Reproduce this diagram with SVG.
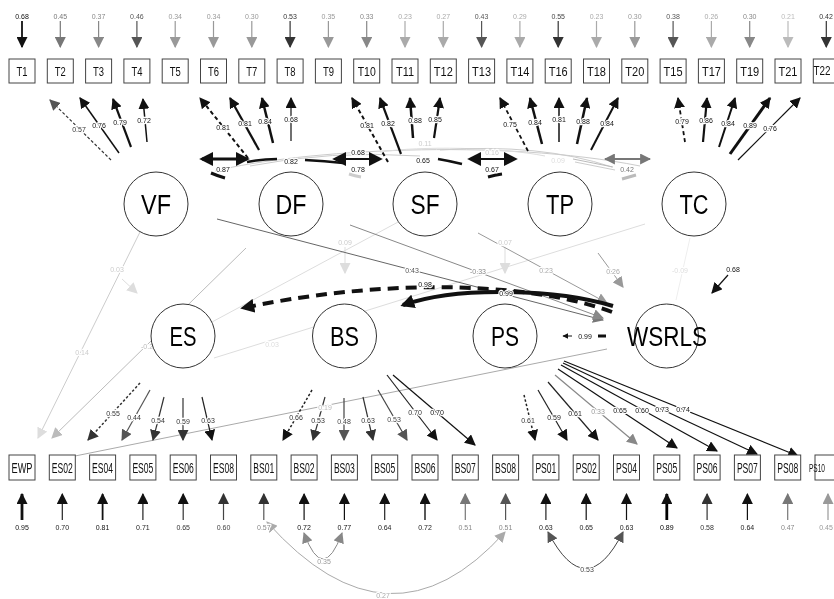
<svg xmlns="http://www.w3.org/2000/svg" width="834" height="599" viewBox="0 0 834 599">
<style>
.n{font-family:"Liberation Sans",Arial,sans-serif;font-size:7px;text-anchor:middle;dominant-baseline:central;paint-order:stroke;stroke:#fff;stroke-width:2.4px;stroke-linejoin:round}
.bx{fill:#fff;stroke:#444;stroke-width:1}
.bt{font-family:"Liberation Sans",Arial,sans-serif;font-size:13px;text-anchor:middle;dominant-baseline:central;fill:#111}
.bb{font-family:"Liberation Sans",Arial,sans-serif;font-size:14px;text-anchor:middle;dominant-baseline:central;fill:#111}
.fc{fill:#fff;stroke:#333;stroke-width:1}
.ft{font-family:"Liberation Sans",Arial,sans-serif;font-size:27px;text-anchor:middle;dominant-baseline:central;fill:#000}
.c{fill:none}
.d{stroke-dasharray:3,2}
.gl{will-change:transform;opacity:0.999}
</style>
<defs>
<marker id="k1" viewBox="0 0 10 10" refX="9" refY="5" markerWidth="11" markerHeight="11" markerUnits="userSpaceOnUse" orient="auto-start-reverse"><path d="M0,0L10,5L0,10z" fill="#111"/></marker>
<marker id="k3" viewBox="0 0 10 10" refX="9" refY="5" markerWidth="11" markerHeight="11" markerUnits="userSpaceOnUse" orient="auto-start-reverse"><path d="M0,0L10,5L0,10z" fill="#333"/></marker>
<marker id="k5" viewBox="0 0 10 10" refX="9" refY="5" markerWidth="11" markerHeight="11" markerUnits="userSpaceOnUse" orient="auto-start-reverse"><path d="M0,0L10,5L0,10z" fill="#555"/></marker>
<marker id="k7" viewBox="0 0 10 10" refX="9" refY="5" markerWidth="11" markerHeight="11" markerUnits="userSpaceOnUse" orient="auto-start-reverse"><path d="M0,0L10,5L0,10z" fill="#777"/></marker>
<marker id="k8" viewBox="0 0 10 10" refX="9" refY="5" markerWidth="11" markerHeight="11" markerUnits="userSpaceOnUse" orient="auto-start-reverse"><path d="M0,0L10,5L0,10z" fill="#888"/></marker>
<marker id="k9" viewBox="0 0 10 10" refX="9" refY="5" markerWidth="11" markerHeight="11" markerUnits="userSpaceOnUse" orient="auto-start-reverse"><path d="M0,0L10,5L0,10z" fill="#999"/></marker>
<marker id="ka" viewBox="0 0 10 10" refX="9" refY="5" markerWidth="11" markerHeight="11" markerUnits="userSpaceOnUse" orient="auto-start-reverse"><path d="M0,0L10,5L0,10z" fill="#aaa"/></marker>
<marker id="kb" viewBox="0 0 10 10" refX="9" refY="5" markerWidth="11" markerHeight="11" markerUnits="userSpaceOnUse" orient="auto-start-reverse"><path d="M0,0L10,5L0,10z" fill="#bbb"/></marker>
<marker id="kd" viewBox="0 0 10 10" refX="9" refY="5" markerWidth="11" markerHeight="11" markerUnits="userSpaceOnUse" orient="auto-start-reverse"><path d="M0,0L10,5L0,10z" fill="#ddd"/></marker>
<marker id="kB" viewBox="0 0 10 10" refX="8" refY="5" markerWidth="14" markerHeight="14" markerUnits="userSpaceOnUse" orient="auto-start-reverse"><path d="M0,0L10,5L0,10z" fill="#111"/></marker>
<marker id="kS" viewBox="0 0 10 10" refX="9" refY="5" markerWidth="6" markerHeight="6" markerUnits="userSpaceOnUse" orient="auto-start-reverse"><path d="M0,0L10,5L0,10z" fill="#111"/></marker>
</defs>
<rect width="834" height="599" fill="#fff"/>

<g id="connectors">
<path class="c" d="M215,171 C300,150 500,138 640,166" stroke="#ccc" stroke-width="1"/>
<path class="c" d="M380,152 C420,146 500,147 545,156" stroke="#ddd" stroke-width="1"/>
<path class="c" d="M440,150 Q540,143 612,167" stroke="#ccc" stroke-width="1"/>
<path class="c" d="M250,166 Q330,150 420,156" stroke="#ccc" stroke-width="1"/>
<line x1="573" y1="159" x2="613" y2="167" stroke="#bbb" stroke-width="1"/>
<line x1="575" y1="162" x2="615" y2="170" stroke="#ccc" stroke-width="1"/>

<line x1="140" y1="232" x2="38" y2="438" stroke="#ccc" stroke-width="1" marker-end="url(#kd)"/>
<line x1="122" y1="279" x2="137" y2="293" stroke="#ddd" stroke-width="1" marker-end="url(#kd)"/>
<line x1="246" y1="248" x2="52" y2="438" stroke="#bbb" stroke-width="1" marker-end="url(#kb)"/>
<line x1="607" y1="349" x2="75" y2="456" stroke="#aaa" stroke-width="1"/>
<line x1="400" y1="221" x2="212" y2="322" stroke="#ddd" stroke-width="1"/>
<line x1="645" y1="224" x2="214" y2="358" stroke="#ddd" stroke-width="1"/>
<line x1="345" y1="247" x2="345" y2="273" stroke="#ddd" stroke-width="1" marker-end="url(#kd)"/>
<line x1="505" y1="247" x2="505" y2="273" stroke="#ddd" stroke-width="1" marker-end="url(#kd)"/>
<line x1="690" y1="238" x2="676" y2="300" stroke="#eee" stroke-width="1"/>

<line x1="22" y1="21" x2="22" y2="47" stroke="#111" stroke-width="1.8" marker-end="url(#k1)"/>
<line x1="60.3" y1="21" x2="60.3" y2="47" stroke="#777" stroke-width="1.2" marker-end="url(#k7)"/>
<line x1="98.6" y1="21" x2="98.6" y2="47" stroke="#888" stroke-width="1.2" marker-end="url(#k8)"/>
<line x1="136.9" y1="21" x2="136.9" y2="47" stroke="#555" stroke-width="1.2" marker-end="url(#k5)"/>
<line x1="175.2" y1="21" x2="175.2" y2="47" stroke="#999" stroke-width="1.2" marker-end="url(#k9)"/>
<line x1="213.5" y1="21" x2="213.5" y2="47" stroke="#999" stroke-width="1.2" marker-end="url(#k9)"/>
<line x1="251.8" y1="21" x2="251.8" y2="47" stroke="#999" stroke-width="1.2" marker-end="url(#k9)"/>
<line x1="290.1" y1="21" x2="290.1" y2="47" stroke="#333" stroke-width="1.2" marker-end="url(#k3)"/>
<line x1="328.4" y1="21" x2="328.4" y2="47" stroke="#999" stroke-width="1.2" marker-end="url(#k9)"/>
<line x1="366.7" y1="21" x2="366.7" y2="47" stroke="#888" stroke-width="1.2" marker-end="url(#k8)"/>
<line x1="405" y1="21" x2="405" y2="47" stroke="#aaa" stroke-width="1.2" marker-end="url(#ka)"/>
<line x1="443.3" y1="21" x2="443.3" y2="47" stroke="#aaa" stroke-width="1.2" marker-end="url(#ka)"/>
<line x1="481.6" y1="21" x2="481.6" y2="47" stroke="#555" stroke-width="1.2" marker-end="url(#k5)"/>
<line x1="519.9" y1="21" x2="519.9" y2="47" stroke="#aaa" stroke-width="1.2" marker-end="url(#ka)"/>
<line x1="558.2" y1="21" x2="558.2" y2="47" stroke="#333" stroke-width="1.2" marker-end="url(#k3)"/>
<line x1="596.5" y1="21" x2="596.5" y2="47" stroke="#aaa" stroke-width="1.2" marker-end="url(#ka)"/>
<line x1="634.8" y1="21" x2="634.8" y2="47" stroke="#999" stroke-width="1.2" marker-end="url(#k9)"/>
<line x1="673.1" y1="21" x2="673.1" y2="47" stroke="#555" stroke-width="1.2" marker-end="url(#k5)"/>
<line x1="711.4" y1="21" x2="711.4" y2="47" stroke="#aaa" stroke-width="1.2" marker-end="url(#ka)"/>
<line x1="749.7" y1="21" x2="749.7" y2="47" stroke="#888" stroke-width="1.2" marker-end="url(#k8)"/>
<line x1="788" y1="21" x2="788" y2="47" stroke="#bbb" stroke-width="1.2" marker-end="url(#kb)"/>
<line x1="826.3" y1="21" x2="826.3" y2="47" stroke="#333" stroke-width="1.2" marker-end="url(#k3)"/>

<line class="d" x1="111" y1="160" x2="50" y2="100" stroke="#333" stroke-width="1.2" marker-end="url(#k5)"/>
<line x1="119" y1="153" x2="80" y2="98" stroke="#111" stroke-width="1.5" marker-end="url(#k1)"/>
<line x1="131" y1="147" x2="113" y2="99" stroke="#111" stroke-width="2.2" marker-end="url(#k1)"/>
<line x1="147" y1="142" x2="143" y2="99" stroke="#111" stroke-width="1.5" marker-end="url(#k1)"/>

<line x1="248" y1="158" x2="200" y2="98" stroke="#111" stroke-width="2" stroke-dasharray="4,3" marker-end="url(#k1)"/>
<line x1="259" y1="150" x2="230" y2="98" stroke="#111" stroke-width="2.2" marker-end="url(#k1)"/>
<line x1="273" y1="143" x2="262" y2="98" stroke="#111" stroke-width="2.5" marker-end="url(#k1)"/>
<line x1="291" y1="141" x2="291" y2="98" stroke="#111" stroke-width="1.2" marker-end="url(#k1)"/>

<line x1="388" y1="162" x2="352" y2="98" stroke="#111" stroke-width="2" stroke-dasharray="4,3" marker-end="url(#k1)"/>
<line x1="401" y1="154" x2="380" y2="98" stroke="#111" stroke-width="2.2" marker-end="url(#k1)"/>
<line x1="413" y1="138" x2="410" y2="98" stroke="#111" stroke-width="2.5" marker-end="url(#k1)"/>
<line x1="434" y1="138" x2="440" y2="98" stroke="#111" stroke-width="2.2" marker-end="url(#k1)"/>

<line x1="528" y1="151" x2="500" y2="98" stroke="#111" stroke-width="1.8" stroke-dasharray="4,3" marker-end="url(#k1)"/>
<line x1="542" y1="144" x2="530" y2="98" stroke="#111" stroke-width="2.5" marker-end="url(#k1)"/>
<line x1="559" y1="142" x2="559" y2="98" stroke="#111" stroke-width="1.5" marker-end="url(#k1)"/>
<line x1="577" y1="144" x2="587" y2="98" stroke="#111" stroke-width="2.5" marker-end="url(#k1)"/>
<line x1="591" y1="150" x2="618" y2="98" stroke="#111" stroke-width="2" marker-end="url(#k1)"/>

<line x1="685" y1="142" x2="678" y2="98" stroke="#111" stroke-width="1.8" stroke-dasharray="4,3" marker-end="url(#k1)"/>
<line x1="703" y1="142" x2="707" y2="98" stroke="#111" stroke-width="2.2" marker-end="url(#k1)"/>
<line x1="719" y1="147" x2="735" y2="98" stroke="#111" stroke-width="2" marker-end="url(#k1)"/>
<line x1="730" y1="154" x2="770" y2="98" stroke="#111" stroke-width="3" marker-end="url(#k1)"/>
<line x1="738" y1="160" x2="800" y2="98" stroke="#111" stroke-width="1.2" marker-end="url(#k1)"/>

<line x1="202" y1="159" x2="247" y2="159" stroke="#111" stroke-width="3" marker-start="url(#kB)" marker-end="url(#kB)"/>
<path class="c" d="M211,173 Q218,176 225,178" stroke="#111" stroke-width="3"/>
<path class="c" d="M247,162 Q262,159 277,159" stroke="#111" stroke-width="2.5"/>
<path class="c" d="M305,160 Q325,161 343,163" stroke="#111" stroke-width="2.5"/>
<line x1="335" y1="159" x2="380" y2="159" stroke="#111" stroke-width="2" marker-start="url(#kB)" marker-end="url(#kB)"/>
<path class="c" d="M349,174 Q355,176 361,177" stroke="#ccc" stroke-width="3"/>
<path class="c" d="M438,159 Q450,161 462,164" stroke="#111" stroke-width="2.5"/>
<line x1="470" y1="159" x2="515" y2="159" stroke="#111" stroke-width="2" marker-start="url(#kB)" marker-end="url(#kB)"/>
<path class="c" d="M488,177 Q495,175 502,174" stroke="#111" stroke-width="3"/>
<line x1="605" y1="159" x2="650" y2="159" stroke="#777" stroke-width="2" marker-start="url(#k7)" marker-end="url(#k7)"/>
<path class="c" d="M622,179 Q629,177 636,175" stroke="#bbb" stroke-width="3"/>

<line x1="217" y1="219" x2="603" y2="320" stroke="#666" stroke-width="1" marker-end="url(#k7)"/>
<line x1="350" y1="225" x2="603" y2="318" stroke="#888" stroke-width="1" marker-end="url(#k8)"/>
<line x1="478" y1="233" x2="607" y2="303" stroke="#999" stroke-width="1" marker-end="url(#k9)"/>
<line x1="598" y1="253" x2="623" y2="287" stroke="#999" stroke-width="1" marker-end="url(#k9)"/>
<line x1="728" y1="275" x2="712" y2="293" stroke="#111" stroke-width="1.2" marker-end="url(#k1)"/>

<path class="c" d="M612,312 C540,285 400,275 243,308" stroke="#111" stroke-width="4" stroke-dasharray="11,7" marker-end="url(#kB)"/>
<path class="c" d="M613,306 C560,290 460,285 403,305" stroke="#111" stroke-width="4" marker-end="url(#kB)"/>
<line x1="598" y1="336" x2="606" y2="336" stroke="#111" stroke-width="3"/>
<line x1="572" y1="336" x2="563" y2="336" stroke="#111" stroke-width="1" marker-end="url(#kS)"/>

<line x1="140" y1="383" x2="88" y2="440" stroke="#333" stroke-width="1.5" stroke-dasharray="2.5,2" marker-end="url(#k3)"/>
<line x1="150" y1="390" x2="122" y2="440" stroke="#555" stroke-width="1.2" marker-end="url(#k5)"/>
<line x1="164" y1="397" x2="153" y2="440" stroke="#333" stroke-width="1.2" marker-end="url(#k3)"/>
<line x1="183" y1="398" x2="183" y2="440" stroke="#333" stroke-width="1.2" marker-end="url(#k3)"/>
<line x1="202" y1="397" x2="212" y2="440" stroke="#222" stroke-width="1.2" marker-end="url(#k1)"/>
<line x1="312" y1="390" x2="283" y2="440" stroke="#222" stroke-width="1.5" stroke-dasharray="2.5,2" marker-end="url(#k1)"/>
<line x1="325" y1="397" x2="313" y2="440" stroke="#333" stroke-width="1.2" marker-end="url(#k3)"/>
<line x1="344" y1="398" x2="344" y2="440" stroke="#444" stroke-width="1.2" marker-end="url(#k5)"/>
<line x1="363" y1="397" x2="373" y2="440" stroke="#333" stroke-width="1.2" marker-end="url(#k3)"/>
<line x1="378" y1="390" x2="407" y2="440" stroke="#444" stroke-width="1.2" marker-end="url(#k5)"/>
<line x1="387" y1="375" x2="437" y2="440" stroke="#222" stroke-width="1.2" marker-end="url(#k1)"/>
<line x1="393" y1="375" x2="475" y2="445" stroke="#111" stroke-width="1.2" marker-end="url(#k1)"/>
<line x1="524" y1="395" x2="535" y2="440" stroke="#222" stroke-width="1.5" stroke-dasharray="2.5,2" marker-end="url(#k1)"/>
<line x1="538" y1="390" x2="567" y2="440" stroke="#222" stroke-width="1.2" marker-end="url(#k1)"/>
<line x1="548" y1="382" x2="598" y2="440" stroke="#222" stroke-width="1.2" marker-end="url(#k1)"/>
<line x1="555" y1="375" x2="637" y2="444" stroke="#888" stroke-width="1.2" marker-end="url(#k8)"/>
<line x1="558" y1="369" x2="677" y2="448" stroke="#111" stroke-width="1.2" marker-end="url(#k1)"/>
<line x1="561" y1="365" x2="717" y2="451" stroke="#111" stroke-width="1.2" marker-end="url(#k1)"/>
<line x1="563" y1="363" x2="757" y2="454" stroke="#111" stroke-width="1.2" marker-end="url(#k1)"/>
<line x1="564" y1="361" x2="798" y2="456" stroke="#111" stroke-width="1.2" marker-end="url(#k1)"/>

<line x1="22" y1="520" x2="22" y2="494" stroke="#111" stroke-width="2.8" marker-end="url(#k1)"/>
<line x1="62.3" y1="520" x2="62.3" y2="494" stroke="#222" stroke-width="1.2" marker-end="url(#k1)"/>
<line x1="102.6" y1="520" x2="102.6" y2="494" stroke="#111" stroke-width="1.8" marker-end="url(#k1)"/>
<line x1="142.9" y1="520" x2="142.9" y2="494" stroke="#222" stroke-width="1.2" marker-end="url(#k1)"/>
<line x1="183.2" y1="520" x2="183.2" y2="494" stroke="#333" stroke-width="1.2" marker-end="url(#k1)"/>
<line x1="223.5" y1="520" x2="223.5" y2="494" stroke="#444" stroke-width="1.2" marker-end="url(#k3)"/>
<line x1="263.8" y1="520" x2="263.8" y2="494" stroke="#555" stroke-width="1.2" marker-end="url(#k3)"/>
<line x1="304.1" y1="520" x2="304.1" y2="494" stroke="#111" stroke-width="1.2" marker-end="url(#k1)"/>
<line x1="344.4" y1="520" x2="344.4" y2="494" stroke="#111" stroke-width="1.2" marker-end="url(#k1)"/>
<line x1="384.7" y1="520" x2="384.7" y2="494" stroke="#222" stroke-width="1.2" marker-end="url(#k1)"/>
<line x1="425" y1="520" x2="425" y2="494" stroke="#222" stroke-width="1.5" marker-end="url(#k1)"/>
<line x1="465.3" y1="520" x2="465.3" y2="494" stroke="#777" stroke-width="1.2" marker-end="url(#k7)"/>
<line x1="505.6" y1="520" x2="505.6" y2="494" stroke="#555" stroke-width="1.2" marker-end="url(#k5)"/>
<line x1="545.9" y1="520" x2="545.9" y2="494" stroke="#222" stroke-width="1.2" marker-end="url(#k1)"/>
<line x1="586.2" y1="520" x2="586.2" y2="494" stroke="#111" stroke-width="1.2" marker-end="url(#k1)"/>
<line x1="626.5" y1="520" x2="626.5" y2="494" stroke="#111" stroke-width="1.2" marker-end="url(#k1)"/>
<line x1="666.8" y1="520" x2="666.8" y2="494" stroke="#000" stroke-width="2.8" marker-end="url(#k1)"/>
<line x1="707.1" y1="520" x2="707.1" y2="494" stroke="#333" stroke-width="1.2" marker-end="url(#k3)"/>
<line x1="747.4" y1="520" x2="747.4" y2="494" stroke="#111" stroke-width="1.2" marker-end="url(#k1)"/>
<line x1="787.7" y1="520" x2="787.7" y2="494" stroke="#777" stroke-width="1.2" marker-end="url(#k7)"/>
<line x1="828" y1="520" x2="828" y2="494" stroke="#999" stroke-width="1.2" marker-end="url(#k9)"/>

<path class="c" d="M304,533 Q323,585 342,533" stroke="#888" stroke-width="1" marker-start="url(#k8)" marker-end="url(#k8)"/>
<path class="c" d="M267,522 Q390,660 505,532" stroke="#aaa" stroke-width="1" marker-start="url(#ka)" marker-end="url(#ka)"/>
<path class="c" d="M548,532 Q586,605 623,532" stroke="#444" stroke-width="1" marker-start="url(#k5)" marker-end="url(#k5)"/>

<g id="labels" class="gl">
<text class="n" x="22" y="16" fill="#111">0.68</text>
<text class="n" x="60.3" y="16" fill="#777">0.45</text>
<text class="n" x="98.6" y="16" fill="#888">0.37</text>
<text class="n" x="136.9" y="16" fill="#555">0.46</text>
<text class="n" x="175.2" y="16" fill="#999">0.34</text>
<text class="n" x="213.5" y="16" fill="#999">0.34</text>
<text class="n" x="251.8" y="16" fill="#999">0.30</text>
<text class="n" x="290.1" y="16" fill="#333">0.53</text>
<text class="n" x="328.4" y="16" fill="#999">0.35</text>
<text class="n" x="366.7" y="16" fill="#888">0.33</text>
<text class="n" x="405" y="16" fill="#aaa">0.23</text>
<text class="n" x="443.3" y="16" fill="#aaa">0.27</text>
<text class="n" x="481.6" y="16" fill="#555">0.43</text>
<text class="n" x="519.9" y="16" fill="#aaa">0.29</text>
<text class="n" x="558.2" y="16" fill="#444">0.55</text>
<text class="n" x="596.5" y="16" fill="#aaa">0.23</text>
<text class="n" x="634.8" y="16" fill="#999">0.30</text>
<text class="n" x="673.1" y="16" fill="#555">0.38</text>
<text class="n" x="711.4" y="16" fill="#aaa">0.26</text>
<text class="n" x="749.7" y="16" fill="#888">0.30</text>
<text class="n" x="788" y="16" fill="#bbb">0.21</text>
<text class="n" x="826" y="16" fill="#333">0.42</text>

<text class="n" x="79" y="129" fill="#333">0.57</text>
<text class="n" x="99" y="125" fill="#111">0.76</text>
<text class="n" x="120" y="122" fill="#111">0.79</text>
<text class="n" x="144" y="120" fill="#111">0.72</text>
<text class="n" x="223" y="127" fill="#111">0.81</text>
<text class="n" x="245" y="123" fill="#111">0.81</text>
<text class="n" x="265" y="121" fill="#111">0.84</text>
<text class="n" x="291" y="119" fill="#111">0.68</text>
<text class="n" x="367" y="125" fill="#111">0.81</text>
<text class="n" x="388" y="123" fill="#111">0.82</text>
<text class="n" x="415" y="120" fill="#111">0.88</text>
<text class="n" x="435" y="119" fill="#111">0.85</text>
<text class="n" x="510" y="124" fill="#111">0.75</text>
<text class="n" x="535" y="122" fill="#111">0.84</text>
<text class="n" x="559" y="119" fill="#111">0.81</text>
<text class="n" x="583" y="121" fill="#111">0.88</text>
<text class="n" x="607" y="123" fill="#111">0.84</text>
<text class="n" x="682" y="121" fill="#111">0.79</text>
<text class="n" x="706" y="120" fill="#111">0.86</text>
<text class="n" x="728" y="123" fill="#111">0.84</text>
<text class="n" x="750" y="125" fill="#111">0.89</text>
<text class="n" x="770" y="128" fill="#111">0.76</text>

<text class="n" x="223" y="169" fill="#111">0.87</text>
<text class="n" x="291" y="161" fill="#111">0.82</text>
<text class="n" x="358" y="152" fill="#111">0.68</text>
<text class="n" x="358" y="169" fill="#111">0.78</text>
<text class="n" x="423" y="160" fill="#111">0.65</text>
<text class="n" x="425" y="143" fill="#ccc">0.11</text>
<text class="n" x="492" y="152" fill="#ccc">0.16</text>
<text class="n" x="492" y="169" fill="#111">0.67</text>
<text class="n" x="558" y="160" fill="#ddd">0.09</text>
<text class="n" x="627" y="169" fill="#777">0.42</text>

<text class="n" x="117" y="269" fill="#ccc">0.03</text>
<text class="n" x="345" y="242" fill="#ccc">0.09</text>
<text class="n" x="505" y="242" fill="#ccc">0.07</text>
<text class="n" x="82" y="352" fill="#ccc">0.14</text>
<text class="n" x="147" y="346" fill="#bbb">-0.2</text>
<text class="n" x="272" y="344" fill="#ddd">0.03</text>
<text class="n" x="325" y="407" fill="#bbb">0.19</text>
<text class="n" x="412" y="270" fill="#555">0.43</text>
<text class="n" x="478" y="271" fill="#888">-0.33</text>
<text class="n" x="546" y="270" fill="#aaa">0.23</text>
<text class="n" x="613" y="271" fill="#aaa">0.26</text>
<text class="n" x="680" y="270" fill="#ddd">-0.09</text>
<text class="n" x="733" y="269" fill="#111">0.68</text>
<text class="n" x="425" y="284" fill="#111">0.98</text>
<text class="n" x="506" y="293" fill="#111">0.99</text>
<text class="n" x="585" y="336" fill="#111">0.99</text>

<text class="n" x="113" y="413" fill="#333">0.55</text>
<text class="n" x="134" y="417" fill="#333">0.44</text>
<text class="n" x="158" y="420" fill="#333">0.54</text>
<text class="n" x="183" y="421" fill="#333">0.59</text>
<text class="n" x="208" y="420" fill="#333">0.63</text>
<text class="n" x="296" y="417" fill="#333">0.66</text>
<text class="n" x="318" y="420" fill="#333">0.53</text>
<text class="n" x="344" y="421" fill="#444">0.48</text>
<text class="n" x="368" y="420" fill="#333">0.63</text>
<text class="n" x="394" y="419" fill="#444">0.53</text>
<text class="n" x="415" y="412" fill="#333">0.70</text>
<text class="n" x="437" y="412" fill="#111">0.70</text>
<text class="n" x="528" y="420" fill="#333">0.61</text>
<text class="n" x="554" y="417" fill="#222">0.59</text>
<text class="n" x="575" y="413" fill="#222">0.61</text>
<text class="n" x="598" y="411" fill="#999">0.33</text>
<text class="n" x="620" y="410" fill="#111">0.65</text>
<text class="n" x="642" y="410" fill="#111">0.60</text>
<text class="n" x="662" y="409" fill="#111">0.73</text>
<text class="n" x="683" y="409" fill="#111">0.74</text>

<text class="n" x="22" y="527" fill="#111">0.95</text>
<text class="n" x="62.3" y="527" fill="#222">0.70</text>
<text class="n" x="102.6" y="527" fill="#111">0.81</text>
<text class="n" x="142.9" y="527" fill="#222">0.71</text>
<text class="n" x="183.2" y="527" fill="#333">0.65</text>
<text class="n" x="223.5" y="527" fill="#444">0.60</text>
<text class="n" x="263.8" y="527" fill="#888">0.57</text>
<text class="n" x="304.1" y="527" fill="#111">0.72</text>
<text class="n" x="344.4" y="527" fill="#111">0.77</text>
<text class="n" x="384.7" y="527" fill="#222">0.64</text>
<text class="n" x="425" y="527" fill="#222">0.72</text>
<text class="n" x="465.3" y="527" fill="#888">0.51</text>
<text class="n" x="505.6" y="527" fill="#888">0.51</text>
<text class="n" x="545.9" y="527" fill="#222">0.63</text>
<text class="n" x="586.2" y="527" fill="#222">0.65</text>
<text class="n" x="626.5" y="527" fill="#222">0.63</text>
<text class="n" x="666.8" y="527" fill="#000">0.89</text>
<text class="n" x="707.1" y="527" fill="#333">0.58</text>
<text class="n" x="747.4" y="527" fill="#222">0.64</text>
<text class="n" x="787.7" y="527" fill="#888">0.47</text>
<text class="n" x="826" y="527" fill="#999">0.45</text>
<text class="n" x="324" y="561" fill="#999">0.35</text>
<text class="n" x="383" y="595" fill="#aaa">0.27</text>
<text class="n" x="587" y="569" fill="#444">0.53</text>
</g>
</g>

<g class="gl">
<g id="VF"><circle class="fc" cx="156" cy="204" r="32"/><text class="ft" x="156" y="205" textLength="30" lengthAdjust="spacingAndGlyphs">VF</text></g>
<g id="DF"><circle class="fc" cx="291" cy="204" r="32"/><text class="ft" x="291" y="205" textLength="31" lengthAdjust="spacingAndGlyphs">DF</text></g>
<g id="SF"><circle class="fc" cx="425" cy="204" r="32"/><text class="ft" x="425" y="205" textLength="29" lengthAdjust="spacingAndGlyphs">SF</text></g>
<g id="TP"><circle class="fc" cx="560" cy="204" r="32"/><text class="ft" x="560" y="205" textLength="28" lengthAdjust="spacingAndGlyphs">TP</text></g>
<g id="TC"><circle class="fc" cx="694" cy="204" r="32"/><text class="ft" x="694" y="205" textLength="29" lengthAdjust="spacingAndGlyphs">TC</text></g>
<g id="ES"><circle class="fc" cx="183" cy="336" r="32"/><text class="ft" x="183" y="337" textLength="27" lengthAdjust="spacingAndGlyphs">ES</text></g>
<g id="BS"><circle class="fc" cx="344.5" cy="336" r="32"/><text class="ft" x="344.5" y="337" textLength="29" lengthAdjust="spacingAndGlyphs">BS</text></g>
<g id="PS"><circle class="fc" cx="505" cy="336" r="32"/><text class="ft" x="505" y="337" textLength="28" lengthAdjust="spacingAndGlyphs">PS</text></g>
<g id="WSRLS"><circle class="fc" cx="666.5" cy="336" r="32"/><text class="ft" x="667" y="337" textLength="80" lengthAdjust="spacingAndGlyphs">WSRLS</text></g>

<g id="T1"><rect class="bx" x="9" y="59" width="26" height="24"/><text class="bt" x="22" y="71" textLength="11" lengthAdjust="spacingAndGlyphs">T1</text></g>
<g id="T2"><rect class="bx" x="47.3" y="59" width="26" height="24"/><text class="bt" x="60.3" y="71" textLength="11" lengthAdjust="spacingAndGlyphs">T2</text></g>
<g id="T3"><rect class="bx" x="85.6" y="59" width="26" height="24"/><text class="bt" x="98.6" y="71" textLength="11" lengthAdjust="spacingAndGlyphs">T3</text></g>
<g id="T4"><rect class="bx" x="123.9" y="59" width="26" height="24"/><text class="bt" x="136.9" y="71" textLength="11" lengthAdjust="spacingAndGlyphs">T4</text></g>
<g id="T5"><rect class="bx" x="162.2" y="59" width="26" height="24"/><text class="bt" x="175.2" y="71" textLength="11" lengthAdjust="spacingAndGlyphs">T5</text></g>
<g id="T6"><rect class="bx" x="200.5" y="59" width="26" height="24"/><text class="bt" x="213.5" y="71" textLength="11" lengthAdjust="spacingAndGlyphs">T6</text></g>
<g id="T7"><rect class="bx" x="238.8" y="59" width="26" height="24"/><text class="bt" x="251.8" y="71" textLength="11" lengthAdjust="spacingAndGlyphs">T7</text></g>
<g id="T8"><rect class="bx" x="277.1" y="59" width="26" height="24"/><text class="bt" x="290.1" y="71" textLength="11" lengthAdjust="spacingAndGlyphs">T8</text></g>
<g id="T9"><rect class="bx" x="315.4" y="59" width="26" height="24"/><text class="bt" x="328.4" y="71" textLength="11" lengthAdjust="spacingAndGlyphs">T9</text></g>
<g id="T10"><rect class="bx" x="353.7" y="59" width="26" height="24"/><text class="bt" x="366.7" y="71" textLength="18" lengthAdjust="spacingAndGlyphs">T10</text></g>
<g id="T11"><rect class="bx" x="392" y="59" width="26" height="24"/><text class="bt" x="405" y="71" textLength="18" lengthAdjust="spacingAndGlyphs">T11</text></g>
<g id="T12"><rect class="bx" x="430.3" y="59" width="26" height="24"/><text class="bt" x="443.3" y="71" textLength="19" lengthAdjust="spacingAndGlyphs">T12</text></g>
<g id="T13"><rect class="bx" x="468.6" y="59" width="26" height="24"/><text class="bt" x="481.6" y="71" textLength="19" lengthAdjust="spacingAndGlyphs">T13</text></g>
<g id="T14"><rect class="bx" x="506.9" y="59" width="26" height="24"/><text class="bt" x="519.9" y="71" textLength="19" lengthAdjust="spacingAndGlyphs">T14</text></g>
<g id="T16"><rect class="bx" x="545.2" y="59" width="26" height="24"/><text class="bt" x="558.2" y="71" textLength="19" lengthAdjust="spacingAndGlyphs">T16</text></g>
<g id="T18"><rect class="bx" x="583.5" y="59" width="26" height="24"/><text class="bt" x="596.5" y="71" textLength="19" lengthAdjust="spacingAndGlyphs">T18</text></g>
<g id="T20"><rect class="bx" x="621.8" y="59" width="26" height="24"/><text class="bt" x="634.8" y="71" textLength="19" lengthAdjust="spacingAndGlyphs">T20</text></g>
<g id="T15"><rect class="bx" x="660.1" y="59" width="26" height="24"/><text class="bt" x="673.1" y="71" textLength="19" lengthAdjust="spacingAndGlyphs">T15</text></g>
<g id="T17"><rect class="bx" x="698.4" y="59" width="26" height="24"/><text class="bt" x="711.4" y="71" textLength="19" lengthAdjust="spacingAndGlyphs">T17</text></g>
<g id="T19"><rect class="bx" x="736.7" y="59" width="26" height="24"/><text class="bt" x="749.7" y="71" textLength="19" lengthAdjust="spacingAndGlyphs">T19</text></g>
<g id="T21"><rect class="bx" x="775" y="59" width="26" height="24"/><text class="bt" x="788" y="71" textLength="19" lengthAdjust="spacingAndGlyphs">T21</text></g>
<g id="T22"><rect class="bx" x="813.3" y="59" width="26" height="24"/><text class="bt" x="822" y="71" style="font-size:12px" textLength="17" lengthAdjust="spacingAndGlyphs">T22</text></g>

<g id="EWP"><rect class="bx" x="9" y="455" width="26" height="25"/><text class="bb" x="22" y="467.5" textLength="21" lengthAdjust="spacingAndGlyphs">EWP</text></g>
<g id="ES02"><rect class="bx" x="49.3" y="455" width="26" height="25"/><text class="bb" x="62.3" y="467.5" textLength="21" lengthAdjust="spacingAndGlyphs">ES02</text></g>
<g id="ES04"><rect class="bx" x="89.6" y="455" width="26" height="25"/><text class="bb" x="102.6" y="467.5" textLength="21" lengthAdjust="spacingAndGlyphs">ES04</text></g>
<g id="ES05"><rect class="bx" x="129.9" y="455" width="26" height="25"/><text class="bb" x="142.9" y="467.5" textLength="21" lengthAdjust="spacingAndGlyphs">ES05</text></g>
<g id="ES06"><rect class="bx" x="170.2" y="455" width="26" height="25"/><text class="bb" x="183.2" y="467.5" textLength="21" lengthAdjust="spacingAndGlyphs">ES06</text></g>
<g id="ES08"><rect class="bx" x="210.5" y="455" width="26" height="25"/><text class="bb" x="223.5" y="467.5" textLength="21" lengthAdjust="spacingAndGlyphs">ES08</text></g>
<g id="BS01"><rect class="bx" x="250.8" y="455" width="26" height="25"/><text class="bb" x="263.8" y="467.5" textLength="21" lengthAdjust="spacingAndGlyphs">BS01</text></g>
<g id="BS02"><rect class="bx" x="291.1" y="455" width="26" height="25"/><text class="bb" x="304.1" y="467.5" textLength="21" lengthAdjust="spacingAndGlyphs">BS02</text></g>
<g id="BS03"><rect class="bx" x="331.4" y="455" width="26" height="25"/><text class="bb" x="344.4" y="467.5" textLength="21" lengthAdjust="spacingAndGlyphs">BS03</text></g>
<g id="BS05"><rect class="bx" x="371.7" y="455" width="26" height="25"/><text class="bb" x="384.7" y="467.5" textLength="21" lengthAdjust="spacingAndGlyphs">BS05</text></g>
<g id="BS06"><rect class="bx" x="412" y="455" width="26" height="25"/><text class="bb" x="425" y="467.5" textLength="21" lengthAdjust="spacingAndGlyphs">BS06</text></g>
<g id="BS07"><rect class="bx" x="452.3" y="455" width="26" height="25"/><text class="bb" x="465.3" y="467.5" textLength="21" lengthAdjust="spacingAndGlyphs">BS07</text></g>
<g id="BS08"><rect class="bx" x="492.6" y="455" width="26" height="25"/><text class="bb" x="505.6" y="467.5" textLength="21" lengthAdjust="spacingAndGlyphs">BS08</text></g>
<g id="PS01"><rect class="bx" x="532.9" y="455" width="26" height="25"/><text class="bb" x="545.9" y="467.5" textLength="21" lengthAdjust="spacingAndGlyphs">PS01</text></g>
<g id="PS02"><rect class="bx" x="573.2" y="455" width="26" height="25"/><text class="bb" x="586.2" y="467.5" textLength="21" lengthAdjust="spacingAndGlyphs">PS02</text></g>
<g id="PS04"><rect class="bx" x="613.5" y="455" width="26" height="25"/><text class="bb" x="626.5" y="467.5" textLength="21" lengthAdjust="spacingAndGlyphs">PS04</text></g>
<g id="PS05"><rect class="bx" x="653.8" y="455" width="26" height="25"/><text class="bb" x="666.8" y="467.5" textLength="21" lengthAdjust="spacingAndGlyphs">PS05</text></g>
<g id="PS06"><rect class="bx" x="694.1" y="455" width="26" height="25"/><text class="bb" x="707.1" y="467.5" textLength="21" lengthAdjust="spacingAndGlyphs">PS06</text></g>
<g id="PS07"><rect class="bx" x="734.4" y="455" width="26" height="25"/><text class="bb" x="747.4" y="467.5" textLength="21" lengthAdjust="spacingAndGlyphs">PS07</text></g>
<g id="PS08"><rect class="bx" x="774.7" y="455" width="26" height="25"/><text class="bb" x="787.7" y="467.5" textLength="21" lengthAdjust="spacingAndGlyphs">PS08</text></g>
<g id="PS10"><rect class="bx" x="815" y="455" width="26" height="25"/><text class="bb" x="817" y="467.5" style="font-size:11px" textLength="16" lengthAdjust="spacingAndGlyphs">PS10</text></g>
</g>
</svg>
